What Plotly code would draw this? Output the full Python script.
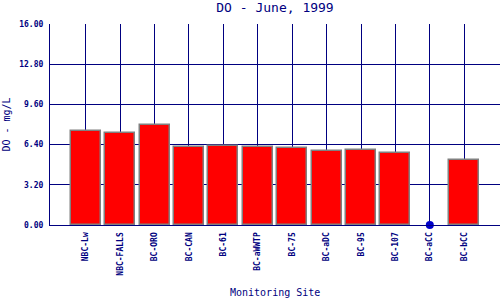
import plotly.graph_objects as go

sites = ["NBC-Lw", "NBC-FALLS", "BC-ORO", "BC-CAN", "BC-61", "BC-aWWTP",
         "BC-75", "BC-aDC", "BC-95", "BC-107", "BC-aCC", "BC-bCC"]
do_values = [7.48, 7.33, 7.97, 6.21, 6.29, 6.21, 6.13, 5.90, 5.98, 5.74, 0.0, 5.18]
y_ticks = [0.0, 3.2, 6.4, 9.6, 12.8, 16.0]

navy = "#000080"
font_mono = "DejaVu Sans Mono"

xs = list(range(len(sites)))
bar_x = [x for x, v in zip(xs, do_values) if v > 0]
bar_y = [v for v in do_values if v > 0]
zero_x = [x for x, v in zip(xs, do_values) if v == 0]
zero_y = [0 for v in do_values if v == 0]

fig = go.Figure()
fig.add_trace(go.Bar(
    x=bar_x, y=bar_y, width=0.87,
    marker=dict(color="#FF0000", line=dict(color="#808080", width=1.5)),
    showlegend=False,
))
fig.add_trace(go.Scatter(
    x=zero_x, y=zero_y, mode="markers",
    marker=dict(color="#0000CC", size=8),
    cliponaxis=False, showlegend=False,
))

fig.update_layout(
    width=500, height=300,
    margin=dict(l=50, r=0, t=24, b=75),
    paper_bgcolor="white", plot_bgcolor="white",
    title=dict(text="DO - June, 1999", x=0.55, xanchor="center", y=0.975, yanchor="middle",
               font=dict(family=font_mono, size=13, color=navy)),
    xaxis=dict(
        range=[-1.04, 12.04],
        tickmode="array", tickvals=xs, ticktext=sites, tickangle=-90,
        tickfont=dict(family=font_mono, size=8, color=navy, weight="bold"),
        ticklabelstandoff=3,
        showgrid=True, gridcolor=navy, gridwidth=1.2,
        showline=True, linecolor=navy, linewidth=1.2,
        ticks="", zeroline=False,
    ),
    yaxis=dict(
        range=[0, 16],
        tickmode="array", tickvals=y_ticks,
        ticktext=[f"{v:.2f}" for v in y_ticks],
        tickfont=dict(family=font_mono, size=8, color=navy, weight="bold"),
        showgrid=True, gridcolor=navy, gridwidth=1.2,
        showline=True, linecolor=navy, linewidth=1.2,
        ticks="outside", ticklen=4, tickcolor="white",
        zeroline=False,
        title=dict(text="DO - mg/L", standoff=6,
                   font=dict(family=font_mono, size=10, color=navy)),
    ),
    annotations=[dict(
        text="Monitoring Site", xref="paper", yref="paper",
        x=0.5, y=-0.338, xanchor="center", yanchor="middle", showarrow=False,
        font=dict(family=font_mono, size=10, color=navy),
    )],
    bargap=0,
)

fig.write_html("out.html")
